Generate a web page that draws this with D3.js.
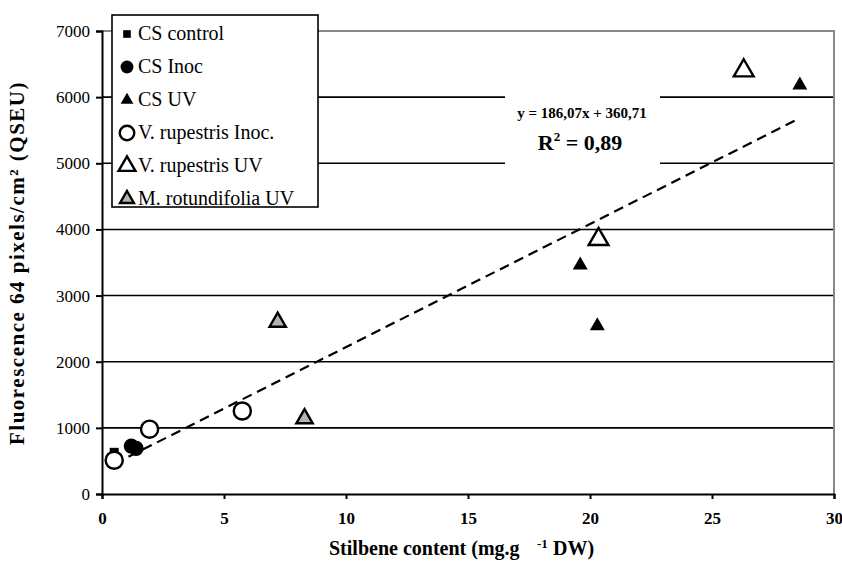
<!DOCTYPE html>
<html>
<head>
<meta charset="utf-8">
<script src="https://cdn.jsdelivr.net/npm/d3@7"></script>
<style>
  body { margin: 0; background: #fff; }
  svg { display: block; font-family: "Liberation Serif", "Times New Roman", serif; }
</style>
</head>
<body>
<div class="chart-box"></div>
<script>
// values (x = stilbene content, y = fluorescence)
const csControlX = [0.5];
const csControlY = [630];
const csInocX = [1.2, 1.4];
const csInocY = [725, 690];
const csUvX = [19.6, 20.3, 28.6];
const csUvY = [3460, 2540, 6180];
const vrInocX = [0.5, 1.95, 5.75];
const vrInocY = [510, 980, 1255];
const vrUvX = [20.35, 26.3];
const vrUvY = [3850, 6400];
const mrUvX = [7.2, 8.3];
const mrUvY = [2600, 1140];

const xTicks = [0, 5, 10, 15, 20, 25, 30];
const yTicks = [0, 1000, 2000, 3000, 4000, 5000, 6000, 7000];
const slope = 186.07, intercept = 360.71;
const eqLabel = "y = 186,07x + 360,71";

const series = [
    { name: "CS control", xs: csControlX, ys: csControlY, shape: "square" },
    { name: "CS Inoc", xs: csInocX, ys: csInocY, shape: "dot" },
    { name: "CS UV", xs: csUvX, ys: csUvY, shape: "tri" },
    { name: "V. rupestris Inoc.", xs: vrInocX, ys: vrInocY, shape: "ring" },
    { name: "V. rupestris UV", xs: vrUvX, ys: vrUvY, shape: "openTri" },
    { name: "M. rotundifolia UV", xs: mrUvX, ys: mrUvY, shape: "grayTri" },
];

const W = 842, H = 574;
const margin = { top: 31, right: 8, bottom: 80, left: 102 };

const svg = d3.select(".chart-box").append("svg")
    .attr("width", W)
    .attr("height", H);

const x = d3.scaleLinear().domain([0, 30]).range([margin.left, W - margin.right]);
const y = d3.scaleLinear().domain([0, 7000]).range([H - margin.bottom, margin.top]);

// marker styles, big = in the plot, small = in the legend
const markStyle = (sel, shape, big) => {
    const k = big ? 1 : 0.85;
    let type = d3.symbolTriangle, size = 97, fill = "#000", stroke = "none", sw = 0;
    if (shape === "square") { type = d3.symbolSquare; size = 81; }
    if (shape === "dot") { type = d3.symbolCircle; size = 180; }
    if (shape === "ring") { type = d3.symbolCircle; size = 230; fill = "#fff"; stroke = "#000"; sw = 2.4; }
    if (shape === "openTri") { type = d3.symbolTriangle; size = 170; fill = "#fff"; stroke = "#000"; sw = 2.4; }
    if (shape === "grayTri") { type = d3.symbolTriangle; size = 115; fill = "#b3b3b3"; stroke = "#000"; sw = 2.4; }
    sel.attr("d", d3.symbol().type(type).size(size * k * k))
        .attr("fill", fill)
        .attr("stroke", stroke)
        .attr("stroke-width", sw);
};

// gridlines
svg.append("g")
    .selectAll("line")
    .data(yTicks.filter(t => t > 0 && t < 7000))
    .enter().append("line")
    .attr("x1", x(0)).attr("x2", x(30))
    .attr("y1", d => y(d)).attr("y2", d => y(d))
    .attr("stroke", "#000")
    .attr("stroke-width", 1.6);

// gray frame top / right
svg.append("path")
    .attr("d", `M${x(0)},${y(7000)}H${x(30)}V${y(0)}`)
    .attr("fill", "none")
    .attr("stroke", "#888")
    .attr("stroke-width", 2);

// equation label box (hides gridlines)
svg.append("rect")
    .attr("x", 505).attr("y", 90)
    .attr("width", 155).attr("height", 80)
    .attr("fill", "#fff");
svg.append("text")
    .attr("x", 582).attr("y", 118)
    .attr("text-anchor", "middle")
    .attr("font-weight", "bold")
    .attr("font-size", "15px")
    .text(eqLabel);
const r2 = svg.append("text")
    .attr("x", 580).attr("y", 150)
    .attr("text-anchor", "middle")
    .attr("font-weight", "bold")
    .attr("font-size", "22px");
r2.append("tspan").text("R");
r2.append("tspan").attr("font-size", "13px").attr("dy", -9).text("2");
r2.append("tspan").attr("dy", 9).text(" = 0,89");

// trendline
const xMin = d3.min(series, s => d3.min(s.xs));
const xMax = d3.max(series, s => d3.max(s.xs));
svg.append("line")
    .attr("x1", x(xMin)).attr("y1", y(intercept + slope * xMin))
    .attr("x2", x(xMax)).attr("y2", y(intercept + slope * xMax))
    .attr("stroke", "#000")
    .attr("stroke-width", 2.2)
    .attr("stroke-dasharray", "10,6");

// axes
const yAxis = svg.append("g")
    .attr("transform", `translate(${margin.left},0)`)
    .call(d3.axisLeft(y).tickValues(yTicks).tickSize(6).tickPadding(6).tickFormat(d3.format("d")));
const xAxis = svg.append("g")
    .attr("transform", `translate(0,${H - margin.bottom})`)
    .call(d3.axisBottom(x).tickValues(xTicks).tickSize(5).tickPadding(13));
[yAxis, xAxis].forEach(a => {
    a.attr("font-family", "Liberation Serif").attr("font-size", 17);
    a.select(".domain").attr("stroke", "#000").attr("stroke-width", 2);
    a.selectAll(".tick line").attr("stroke", "#000").attr("stroke-width", 2);
    a.selectAll("text")
        .attr("fill", "#000")
        .style("font-family", "'Liberation Serif', serif")
        .style("font-size", "17px");
});
xAxis.selectAll("text").attr("font-weight", "bold");

// points
series.forEach(s => {
    svg.append("g")
        .selectAll("path")
        .data(s.xs.map((v, i) => [v, s.ys[i]]))
        .enter().append("path")
        .attr("transform", d => `translate(${x(d[0])},${y(d[1])})`)
        .call(markStyle, s.shape, true);
});

// legend
const legend = svg.append("g").attr("transform", "translate(112,15)");
legend.append("rect")
    .attr("width", 206).attr("height", 192)
    .attr("fill", "#fff")
    .attr("stroke", "#000")
    .attr("stroke-width", 1.6);
series.forEach((s, i) => {
    const row = legend.append("g").attr("transform", `translate(0,${18 + i * 33})`);
    row.append("path")
        .attr("transform", "translate(15,1)")
        .call(markStyle, s.shape, false);
    row.append("text")
        .attr("x", 26).attr("y", 7)
        .attr("font-size", "20px")
        .text(s.name);
});

// axis titles
svg.append("text")
    .attr("transform", "translate(24,263) rotate(-90)")
    .attr("text-anchor", "middle")
    .attr("font-weight", "bold")
    .attr("font-size", "21px")
    .attr("letter-spacing", "1.5px")
    .text("Fluorescence 64 pixels/cm² (QSEU)");
const xt = svg.append("text")
    .attr("x", 329).attr("y", 555)
    .attr("font-weight", "bold")
    .attr("font-size", "20px");
xt.append("tspan").text("Stilbene content (mg.g");
xt.append("tspan").attr("x", 537).attr("dy", -7).attr("font-size", "13px").text("-1");
xt.append("tspan").attr("x", 553).attr("dy", 7).text("DW)");
</script>
</body>
</html>
